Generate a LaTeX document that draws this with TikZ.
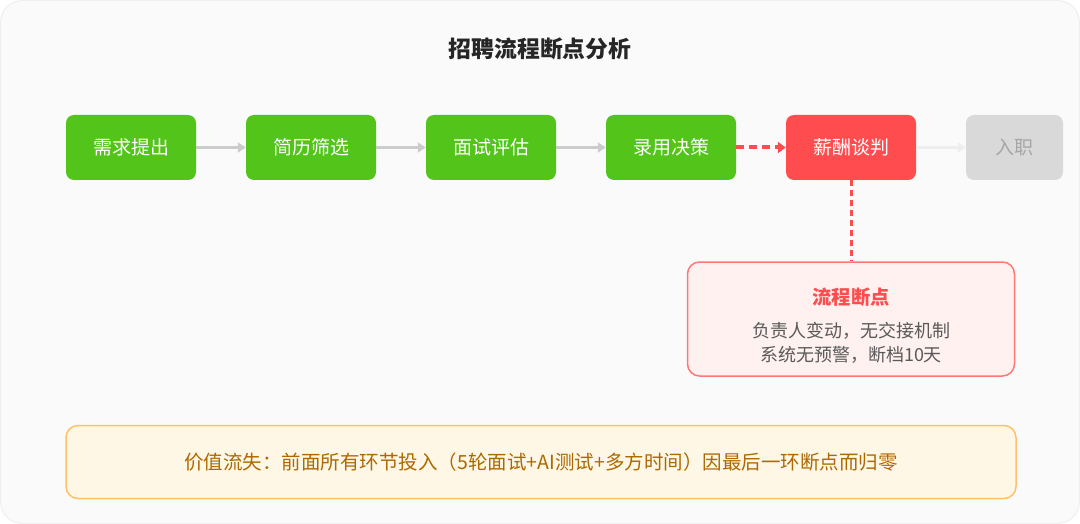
\documentclass[tikz,border=0pt]{standalone}
\usepackage{fontspec}
\setmainfont{Noto Sans CJK SC}
\usetikzlibrary{arrows.meta}
\definecolor{bgc}{HTML}{FAFAFA}
\definecolor{bgline}{HTML}{EFEFEF}
\definecolor{okgreen}{HTML}{52C41A}
\definecolor{badred}{HTML}{FF4D4F}
\definecolor{offgray}{HTML}{D9D9D9}
\definecolor{offtext}{HTML}{A6A6A6}
\definecolor{arrgray}{HTML}{CCCCCC}
\definecolor{arrlight}{HTML}{EEEEEE}
\definecolor{bpfill}{HTML}{FFF1F0}
\definecolor{bpline}{HTML}{FF7875}
\definecolor{bptext}{HTML}{595959}
\definecolor{lossfill}{HTML}{FFF7E6}
\definecolor{lossline}{HTML}{FFC069}
\definecolor{losstext}{HTML}{AD6800}
\definecolor{titlec}{HTML}{262626}
\begin{document}
\begin{tikzpicture}[x=1pt,y=-1pt,
  stagebox/.style={rounded corners=8pt, minimum width=130pt, minimum height=65pt, inner sep=0pt, font=\fontsize{19}{21}\selectfont},
  donebox/.style={stagebox, fill=okgreen, text=white},
  failbox/.style={stagebox, fill=badred, text=white},
  todobox/.style={stagebox, fill=offgray, text=offtext, minimum width=97pt},
  flowarrow/.style={draw=arrgray, line width=2.5pt, -{Triangle[length=8pt,width=10pt]}},
  lightarrow/.style={draw=arrlight, line width=2.5pt, -{Triangle[length=8pt,width=10pt]}},
  breakarrow/.style={draw=badred, line width=4pt, dash pattern=on 8pt off 5pt, -{Triangle[length=8pt,width=11pt]}},
  breakline/.style={draw=badred, line width=3pt, dash pattern=on 6pt off 4pt},
  txt/.style={inner sep=0pt}
]
\useasboundingbox (0,0) rectangle (1080,524);
\fill[white] (0,0) rectangle (1080,524);
\draw[fill=bgc, draw=bgline, line width=1pt, rounded corners=22pt] (0.5,0.5) rectangle (1079.5,523.5);

\node[txt, text=titlec, font=\fontsize{22.8}{26}\selectfont\bfseries] (title) at (540,49) {招聘流程断点分析};

\node[donebox] (n1) at (131,147.5) {需求提出};
\node[donebox] (n2) at (311,147.5) {简历筛选};
\node[donebox] (n3) at (491,147.5) {面试评估};
\node[donebox] (n4) at (671,147.5) {录用决策};
\node[failbox] (n5) at (851,147.5) {薪酬谈判};
\node[todobox] (n6) at (1014.5,147.5) {入职};

\draw[flowarrow] (n1.east) -- (n2.west);
\draw[flowarrow] (n2.east) -- (n3.west);
\draw[flowarrow] (n3.east) -- (n4.west);
\draw[breakarrow] (n4.east) -- (n5.west);
\draw[lightarrow] (n5.east) -- (n6.west);

\node[draw=bpline, fill=bpfill, line width=1.5pt, rounded corners=12pt, minimum width=327pt, minimum height=114pt, inner sep=0pt] (bp) at (851,319) {};
\draw[breakline] (n5.south) -- (bp.north);
\node[txt, text=badred, font=\fontsize{19.3}{22}\selectfont\bfseries] (bptitle) at (851,297) {流程断点};
\node[txt, text=bptext, font=\fontsize{18}{20}\selectfont] (bpl1) at (851,331) {负责人变动，无交接机制};
\node[txt, text=bptext, font=\fontsize{18}{20}\selectfont] (bpl2) at (851,355) {系统无预警，断档10天};

\node[draw=lossline, fill=lossfill, line width=1.5pt, rounded corners=12pt, minimum width=950pt, minimum height=73pt, inner sep=0pt, text=losstext, font=\fontsize{19.5}{22}\selectfont] (loss) at (541,462) {价值流失：前面所有环节投入（5轮面试+AI测试+多方时间）因最后一环断点而归零};
\end{tikzpicture}
\end{document}
